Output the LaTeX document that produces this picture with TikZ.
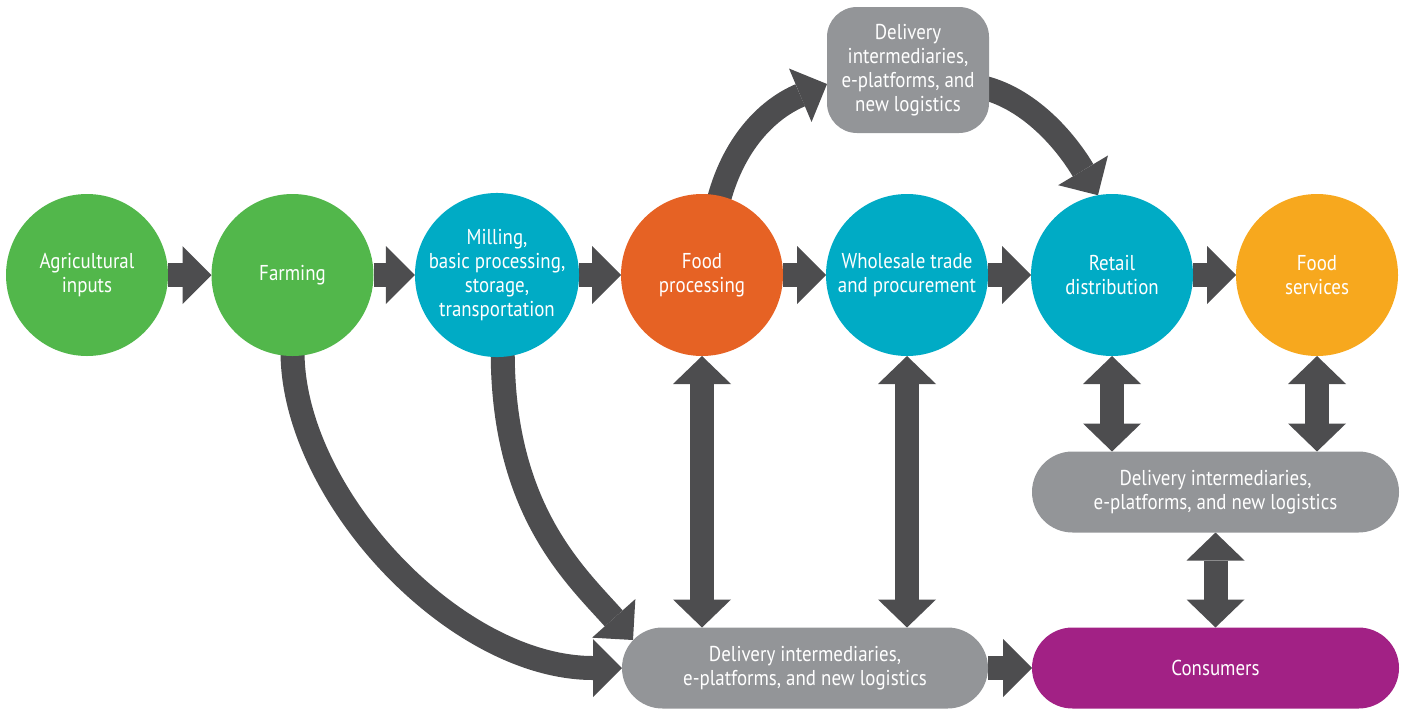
\documentclass[tikz,border=0pt]{standalone}
\usepackage{fontspec}
\setmainfont{PT Sans}[FakeStretch=0.88]
\usetikzlibrary{arrows.meta,calc,backgrounds}
\definecolor{cgreen}{RGB}{82,183,75}
\definecolor{cteal}{RGB}{0,171,197}
\definecolor{corange}{RGB}{230,98,36}
\definecolor{cyellow}{RGB}{247,168,30}
\definecolor{cgray}{RGB}{147,149,152}
\definecolor{cpurple}{RGB}{162,33,133}
\definecolor{carrow}{RGB}{77,77,79}
\begin{document}
\begin{tikzpicture}[x=1pt,y=-1pt,
  every node/.style={font=\fontsize{21.5}{24}\selectfont, text=white, align=center, inner sep=0pt, outer sep=0pt},
  circ/.style={circle, minimum size=162pt},
  pill/.style={rectangle, rounded corners=40.5pt, minimum width=367pt, minimum height=81pt},
  tbox/.style={rectangle, rounded corners=30pt, minimum width=162pt, minimum height=126pt, fill=cgray},
  fat/.style={draw=carrow, line width=24pt, -{Triangle[width=58pt,length=29pt,line width=0pt]}},
  fatboth/.style={draw=carrow, line width=24pt, {Triangle[width=58pt,length=28pt,line width=0pt]}-{Triangle[width=58pt,length=28pt,line width=0pt]}}
]
\useasboundingbox (0,0) rectangle (1405,710);
\node[circ, fill=cgreen] (ag) at (87,275) {Agricultural\\inputs};
\node[circ, fill=cgreen] (farm) at (292.5,275) {Farming};
\node[circ, fill=cteal] (mill) at (497,275) {Milling,\\basic processing,\\storage,\\transportation};
\node[circ, fill=corange] (fp) at (702,275) {Food\\processing};
\node[circ, fill=cteal] (whole) at (907,275) {Wholesale trade\\and procurement};
\node[circ, fill=cteal] (ret) at (1112,275) {Retail\\distribution};
\node[circ, fill=cyellow] (fs) at (1317,275) {Food\\services};
\node[tbox] (top) at (908,70) {Delivery\\intermediaries,\\e-platforms, and\\new logistics};
\node[pill, fill=cgray] (mid) at (1215.5,492) {Delivery intermediaries,\\e-platforms, and new logistics};
\node[pill, fill=cgray, minimum width=366pt] (bot) at (805,668) {Delivery intermediaries,\\e-platforms, and new logistics};
\node[pill, fill=cpurple] (cons) at (1215.5,668) {Consumers};
\begin{pgfonlayer}{background}
\draw[fat] (ag) -- (farm);
\draw[fat] (farm) -- (mill);
\draw[fat] (mill) -- (fp);
\draw[fat] (fp) -- (whole);
\draw[fat] (whole) -- (ret);
\draw[fat] (ret) -- (fs);
\draw[fat] (bot) -- (cons);
\draw[fatboth] (fp.south) -- (fp.south |- bot.north);
\draw[fatboth] (whole.south) -- (whole.south |- bot.north);
\draw[fatboth] (ret.south) -- (ret.south |- mid.north);
\draw[fatboth] (fs.south) -- (fs.south |- mid.north);
\draw[fatboth] (mid.south) -- (cons.north);
\coordinate (farmS) at ($(farm.south)+(0,-4)$);
\coordinate (millS) at ($(mill.-86)+(0,-4)$);
\coordinate (fpN) at ($(fp.78)+(0,4)$);
\coordinate (topE) at ($(top.east)+(-4,18)$);
\coordinate (topW) at ($(top.west)+(0,14)$);
\coordinate (botA) at ($(bot.west)+(11,-28)$);
\draw[fat] (farmS) .. controls (293,495) and (455,668) .. (bot.west);
\draw[fat] (millS) .. controls (503,510) and (575,575) .. (botA);
\draw[fat] (fpN) .. controls (735,140) and (770,108) .. (topW);
\draw[fat] (topE) .. controls (1030,100) and (1065,140) .. (ret.100);
\end{pgfonlayer}
\end{tikzpicture}
\end{document}
